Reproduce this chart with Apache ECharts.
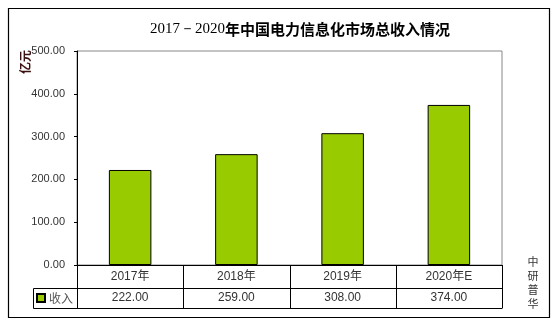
<!DOCTYPE html>
<html><head><meta charset="utf-8">
<script src="https://cdn.jsdelivr.net/npm/echarts@6/dist/echarts.min.js"></script>
<style>html,body{margin:0;padding:0;background:#fff}#c{width:558px;height:326px}</style>
</head><body><div id="c"></div>
<script>
const categories = ['2017年', '2018年', '2019年', '2020年E'];
const revenue = [222, 259, 308, 374];
const seriesName = '收入';
const yTicks = [0, 100, 200, 300, 400, 500];

const G = {left: 77, top: 51, width: 425, height: 214};
const rowH1 = 23, rowH2 = 20, legendLeft = 33;
const bottom0 = G.top + G.height;
const colW = G.width / categories.length;

const graphics = [];
// outer frame
graphics.push({type:'rect', shape:{x:8.5,y:8.5,width:541,height:309}, style:{fill:'none', stroke:'#000', lineWidth:1.2}, z:0});
// table lines
const yRow1 = bottom0 + rowH1, yRow2 = yRow1 + rowH2;
for (let i = 0; i <= categories.length; i++) {
  const x = Math.round(G.left + i*colW) + 0.5;
  graphics.push({type:'line', shape:{x1:x,y1:bottom0,x2:x,y2:yRow2}, style:{stroke:'#000', lineWidth:1}, z:10});
}
graphics.push({type:'line', shape:{x1:legendLeft+0.5,y1:yRow1+0.5,x2:G.left+G.width+0.5,y2:yRow1+0.5}, style:{stroke:'#000', lineWidth:1}, z:10});
graphics.push({type:'line', shape:{x1:legendLeft+0.5,y1:yRow2+0.5,x2:G.left+G.width+0.5,y2:yRow2+0.5}, style:{stroke:'#000', lineWidth:1}, z:10});
graphics.push({type:'line', shape:{x1:legendLeft+0.5,y1:yRow1+0.5,x2:legendLeft+0.5,y2:yRow2+0.5}, style:{stroke:'#000', lineWidth:1}, z:10});
// unit label
graphics.push({type:'text', x:25, y:62, rotation:Math.PI/2, style:{text:'亿元', font:'bold 12px "Noto Sans CJK SC"', fill:'#3a1010', textAlign:'center', textVerticalAlign:'middle'}});
// source
graphics.push({type:'text', x:533, y:283, style:{text:'中\n研\n普\n华', font:'11px "Noto Sans CJK SC"', fill:'#333', textAlign:'center', textVerticalAlign:'middle', lineHeight:14}});

const chart = echarts.init(document.getElementById('c'), null, {renderer:'canvas'});
chart.setOption({
  animation:false,
  backgroundColor:'#fff',
  title:{
    text:'{a|2017－2020}{b|年中国电力信息化市场总收入情况}',
    left:295, top:17, textAlign:'center',
    textStyle:{rich:{
      a:{fontFamily:'"Liberation Serif","Times New Roman",serif', fontSize:15, fontWeight:'normal', color:'#000'},
      b:{fontFamily:'"Noto Sans CJK SC",sans-serif', fontSize:15, fontWeight:'bold', color:'#000'}
    }}
  },
  legend:{
    data:[seriesName], left:legendLeft+3, top:yRow1+4, padding:0, itemWidth:8, itemHeight:8, itemGap:3,
    icon:'rect', textStyle:{fontSize:12, color:'#555', fontFamily:'"Noto Sans CJK SC",sans-serif', padding:[0,0,0,-1]}
  },
  grid:{left:G.left, top:G.top, width:G.width, height:G.height, show:true, borderColor:'#888', borderWidth:1},
  xAxis:[{
    type:'category', data:categories, position:'bottom',
    axisLine:{lineStyle:{color:'#000', width:1}}, axisTick:{show:false},
    axisLabel:{margin:6, fontSize:12, color:'#333', fontFamily:'"Liberation Sans",Arial,"Noto Sans CJK SC",sans-serif'}
  },{
    type:'category', data:revenue.map(v=>v.toFixed(2)), position:'bottom', offset:rowH1,
    axisLine:{show:false}, axisTick:{show:false},
    axisLabel:{margin:4, fontSize:12, color:'#333', fontFamily:'"Liberation Sans",Arial,sans-serif'}
  }],
  yAxis:{
    type:'value', min:yTicks[0], max:yTicks[yTicks.length-1], interval:yTicks[1]-yTicks[0],
    axisLine:{show:true, lineStyle:{color:'#000', width:1}},
    axisTick:{show:true, length:3, lineStyle:{color:'#000'}},
    splitLine:{show:false},
    axisLabel:{margin:12, fontSize:11, color:'#333', fontFamily:'"Liberation Sans",Arial,sans-serif', formatter:v=>v.toFixed(2)}
  },
  series:[{
    name:seriesName, type:'bar', data:revenue, barWidth:'40%',
    itemStyle:{color:'#99CC00', borderColor:'#000', borderWidth:1}
  }],
  graphic:graphics
});
</script></body></html>
